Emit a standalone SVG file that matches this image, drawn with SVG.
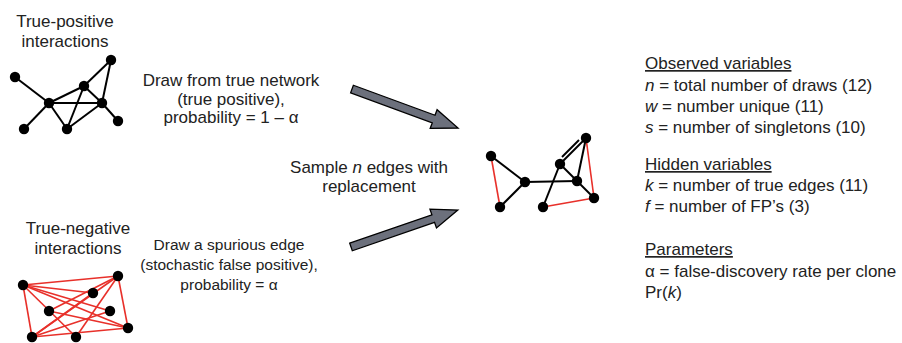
<svg xmlns="http://www.w3.org/2000/svg" width="902" height="343" viewBox="0 0 902 343">
<style>
text{font-family:"Liberation Sans",Arial,sans-serif;font-size:17px;fill:#222}
.c{text-anchor:middle}
.s{font-size:15.5px}
.u{text-decoration:underline}
.i{font-style:italic}
.e{stroke:#000;stroke-width:2;fill:none}
.r{stroke:#e8302a;stroke-width:1.6;fill:none}
.n{fill:#000}
.arr{fill:#6c707c;stroke:#000;stroke-width:1.3;stroke-linejoin:miter}
</style>
<rect width="902" height="343" fill="#fff"/>

<g id="true-positive-label">
<text class="c" x="65" y="27">True-positive</text>
<text class="c" x="65" y="47">interactions</text>
</g>

<g id="true-positive-network">
<g class="e">
<line x1="15" y1="77" x2="49" y2="103"/>
<line x1="24" y1="129" x2="49" y2="103"/>
<line x1="49" y1="103" x2="67" y2="129"/>
<line x1="49" y1="103" x2="84" y2="86"/>
<line x1="49" y1="103" x2="102" y2="103"/>
<line x1="84" y1="86" x2="111" y2="60"/>
<line x1="111" y1="60" x2="102" y2="103"/>
<line x1="84" y1="86" x2="102" y2="103"/>
<line x1="67" y1="129" x2="84" y2="86"/>
<line x1="67" y1="129" x2="102" y2="103"/>
<line x1="102" y1="103" x2="118" y2="121"/>
</g>
<g class="n">
<circle cx="15" cy="77" r="5.2"/><circle cx="49" cy="103" r="5.2"/><circle cx="24" cy="129" r="5.2"/><circle cx="67" cy="129" r="5.2"/>
<circle cx="84" cy="86" r="5.2"/><circle cx="102" cy="103" r="5.2"/><circle cx="111" cy="60" r="5.2"/><circle cx="118" cy="121" r="5.2"/>
</g>
</g>

<g id="true-negative-label">
<text class="c" x="78" y="234">True-negative</text>
<text class="c" x="78" y="254">interactions</text>
</g>

<g id="true-negative-network">
<g class="r">
<line x1="23" y1="285" x2="118" y2="276"/>
<line x1="23" y1="285" x2="93" y2="293"/>
<line x1="23" y1="285" x2="110" y2="311"/>
<line x1="23" y1="285" x2="128" y2="328"/>
<line x1="23" y1="285" x2="32" y2="337"/>
<line x1="23" y1="285" x2="76" y2="337"/>
<line x1="118" y1="276" x2="32" y2="337"/>
<line x1="118" y1="276" x2="49" y2="311"/>
<line x1="118" y1="276" x2="128" y2="328"/>
<line x1="118" y1="276" x2="76" y2="337"/>
<line x1="93" y1="293" x2="32" y2="337"/>
<line x1="49" y1="311" x2="128" y2="328"/>
<line x1="32" y1="337" x2="128" y2="328"/>
<line x1="32" y1="337" x2="110" y2="311"/>
</g>
<g class="n">
<circle cx="23" cy="285" r="5.2"/><circle cx="118" cy="276" r="5.2"/><circle cx="93" cy="293" r="5.2"/><circle cx="49" cy="311" r="5.2"/>
<circle cx="110" cy="311" r="5.2"/><circle cx="128" cy="328" r="5.2"/><circle cx="32" cy="337" r="5.2"/><circle cx="76" cy="337" r="5.2"/>
</g>
</g>

<g id="draw-true-label">
<text class="c" x="231" y="86">Draw from true network</text>
<text class="c" x="231" y="104.5">(true positive),</text>
<text class="c" x="231" y="123">probability = 1 – α</text>
</g>

<g id="draw-spurious-label">
<text class="c s" x="229" y="250">Draw a spurious edge</text>
<text class="c s" x="229" y="270">(stochastic false positive),</text>
<text class="c s" x="229" y="290">probability = α</text>
</g>

<g id="sample-label">
<text class="c" x="369" y="173">Sample <tspan class="i">n</tspan> edges with</text>
<text class="c" x="369" y="192">replacement</text>
</g>

<g id="connectors">
<polygon class="arr" transform="translate(352,89) rotate(20.2)" points="0,-4 87,-4 87,-10 113,0 87,10 87,4 0,4"/>
<polygon class="arr" transform="translate(351,247) rotate(-19.1)" points="0,-4 87,-4 87,-10 113,0 87,10 87,4 0,4"/>
</g>

<g id="sampled-network">
<g class="e">
<line x1="491" y1="156" x2="525" y2="182"/>
<line x1="500" y1="207" x2="525" y2="182"/>
<line x1="525" y1="182" x2="577" y2="181"/>
<line x1="560" y1="164" x2="543" y2="207"/>
<line x1="560" y1="164" x2="577" y2="181"/>
<line x1="577" y1="181" x2="594" y2="198"/>
<line x1="586" y1="138" x2="577" y2="181"/>
<line x1="586" y1="138" x2="560" y2="164"/>
<line x1="562" y1="157" x2="579" y2="140"/>
</g>
<g class="r">
<line x1="491" y1="156" x2="500" y2="207"/>
<line x1="586" y1="138" x2="594" y2="198"/>
<line x1="543" y1="207" x2="594" y2="198"/>
</g>
<g class="n">
<circle cx="491" cy="156" r="5.2"/><circle cx="525" cy="182" r="5.2"/><circle cx="500" cy="207" r="5.2"/><circle cx="543" cy="207" r="5.2"/>
<circle cx="560" cy="164" r="5.2"/><circle cx="577" cy="181" r="5.2"/><circle cx="586" cy="138" r="5.2"/><circle cx="594" cy="198" r="5.2"/>
</g>
</g>

<g id="observed">
<text class="u" x="645" y="69">Observed variables</text>
<text x="645" y="91"><tspan class="i">n</tspan> = total number of draws (12)</text>
<text x="645" y="112"><tspan class="i">w</tspan> = number unique (11)</text>
<text x="645" y="133"><tspan class="i">s</tspan> = number of singletons (10)</text>
</g>

<g id="hidden">
<text class="u" x="645" y="170">Hidden variables</text>
<text x="645" y="191"><tspan class="i">k</tspan> = number of true edges (11)</text>
<text x="645" y="212"><tspan class="i">f</tspan> = number of FP’s (3)</text>
</g>

<g id="parameters">
<text class="u" x="645" y="255">Parameters</text>
<text x="645" y="277">α = false-discovery rate per clone</text>
<text x="645" y="298">Pr(<tspan class="i">k</tspan>)</text>
</g>
</svg>
